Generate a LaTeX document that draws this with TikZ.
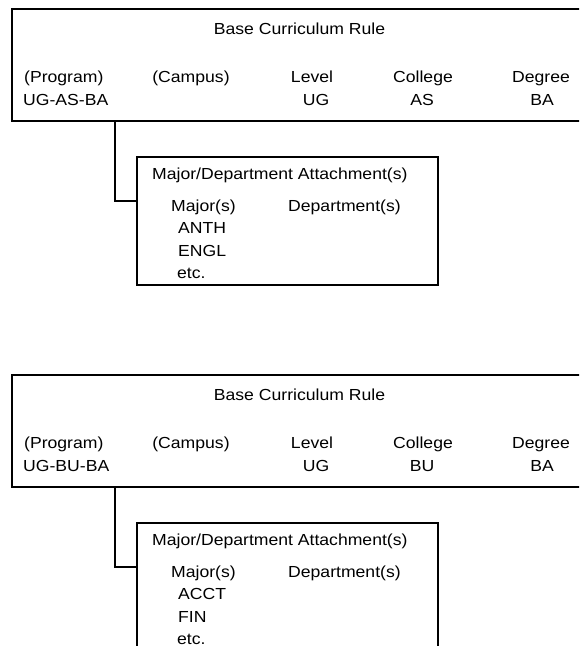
\documentclass[tikz,border=0pt]{standalone}
\usepackage{fontspec}
\setmainfont{Liberation Sans}[FakeStretch=1.1]
\usetikzlibrary{positioning}

\begin{document}
\begin{tikzpicture}
    [
    x=1pt, y=-1pt,
    rulebox/.style={draw,line width=1.1pt,minimum width=588pt,minimum height=112pt,inner sep=0pt},
    attachbox/.style={draw,line width=1.1pt,minimum width=301pt,minimum height=128pt,inner sep=0pt},
    txt/.style={font=\fontsize{16}{19}\selectfont,inner sep=0pt,anchor=base},
    ltxt/.style={txt,anchor=base west},
    link/.style={line width=1.1pt}
    ]
    \useasboundingbox (0,0) rectangle (579,646);
    \clip (0,0) rectangle (579,646);

    % first rule
    \node (rulea) at (306,65) [rulebox] {};
    \node (titlea) at (299.5,34) [txt] {Base Curriculum Rule};
    \node (proga) at (24,82) [ltxt] {(Program)};
    \node (progva) at (23,105) [ltxt] {UG-AS-BA};
    \node (campa) at (191,82) [txt] {(Campus)};
    \node (levela) at (312,82) [txt] {Level};
    \node (levelva) at (316,105) [txt] {UG};
    \node (colla) at (423,82) [txt] {College};
    \node (collva) at (422,105) [txt] {AS};
    \node (dega) at (541,82) [txt] {Degree};
    \node (degva) at (542,105) [txt] {BA};

    \node (attacha) at (287.5,221) [attachbox] {};
    \node (atitlea) at (152,179) [ltxt] {Major/Department Attachment(s)};
    \node (majora) at (171,211) [ltxt] {Major(s)};
    \node (depta) at (288,211) [ltxt] {Department(s)};
    \node (m1a) at (178,233) [ltxt] {ANTH};
    \node (m2a) at (178,256) [ltxt] {ENGL};
    \node (m3a) at (177,278) [ltxt] {etc.};

    \coordinate (joina) at (115,121);
    \coordinate (enda) at (137,201);
    \draw [link] (joina) |- (enda);

    % second rule
    \node (ruleb) at (306,431) [rulebox] {};
    \node (titleb) at (299.5,400) [txt] {Base Curriculum Rule};
    \node (progb) at (24,448) [ltxt] {(Program)};
    \node (progvb) at (23,471) [ltxt] {UG-BU-BA};
    \node (campb) at (191,448) [txt] {(Campus)};
    \node (levelb) at (312,448) [txt] {Level};
    \node (levelvb) at (316,471) [txt] {UG};
    \node (collb) at (423,448) [txt] {College};
    \node (collvb) at (422,471) [txt] {BU};
    \node (degb) at (541,448) [txt] {Degree};
    \node (degvb) at (542,471) [txt] {BA};

    \node (attachb) at (287.5,587) [attachbox] {};
    \node (atitleb) at (152,545) [ltxt] {Major/Department Attachment(s)};
    \node (majorb) at (171,577) [ltxt] {Major(s)};
    \node (deptb) at (288,577) [ltxt] {Department(s)};
    \node (m1b) at (178,599) [ltxt] {ACCT};
    \node (m2b) at (178,622) [ltxt] {FIN};
    \node (m3b) at (177,644) [ltxt] {etc.};

    \coordinate (joinb) at (115,487);
    \coordinate (endb) at (137,567);
    \draw [link] (joinb) |- (endb);
  \end{tikzpicture}
\end{document}
